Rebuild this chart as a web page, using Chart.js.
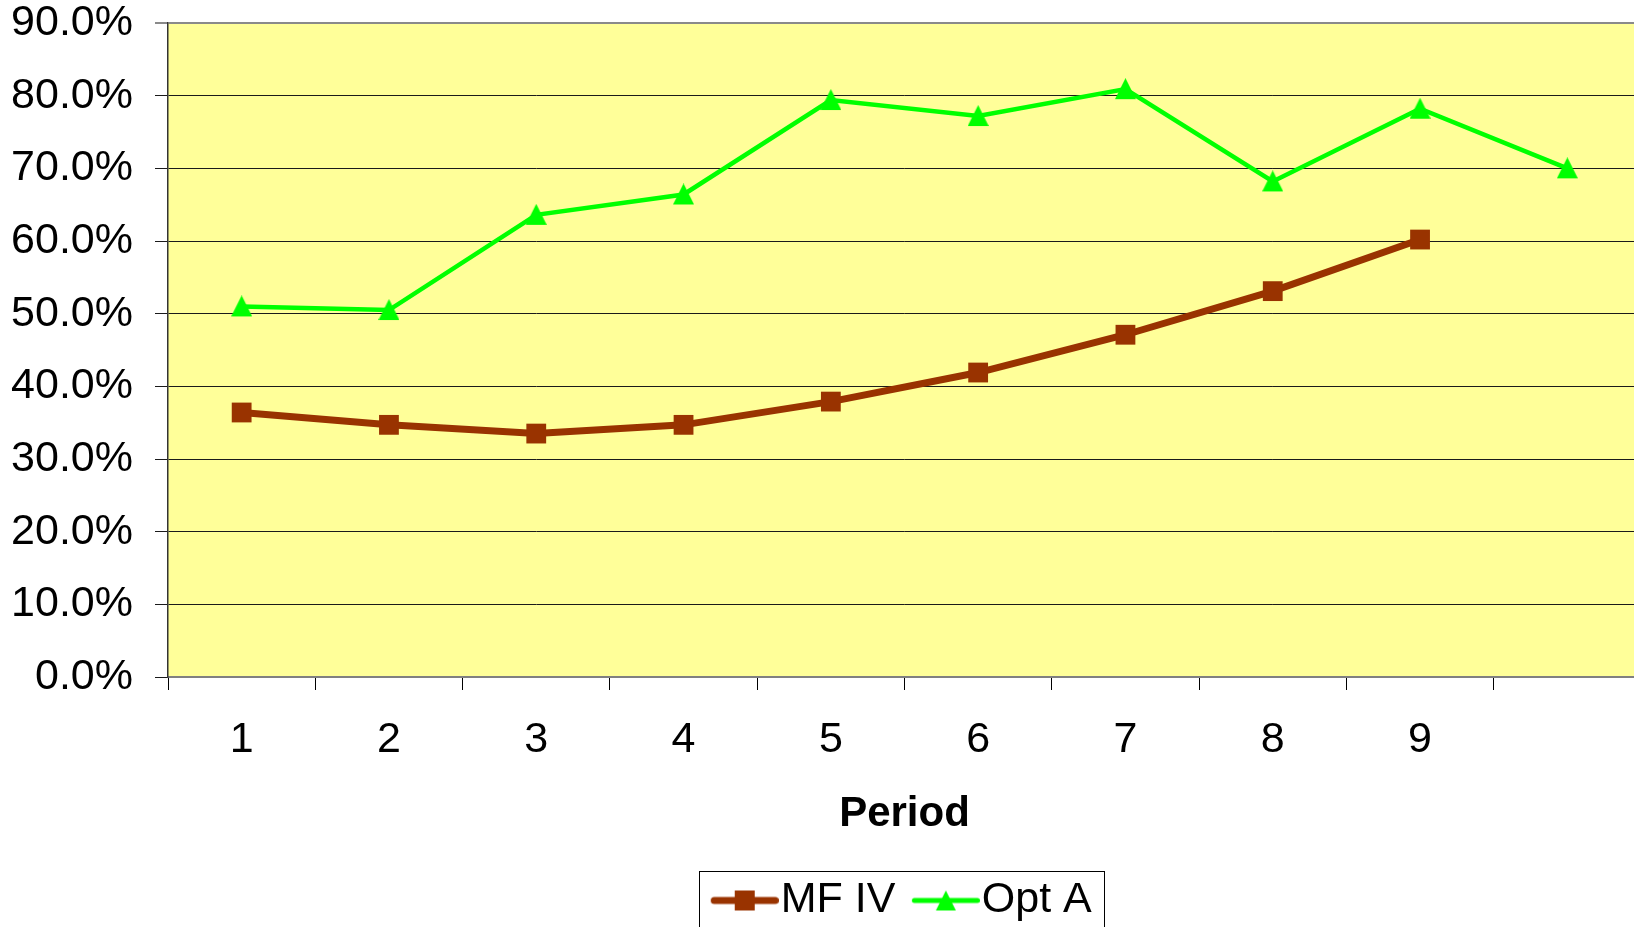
<!DOCTYPE html>
<html>
<head>
<meta charset="utf-8">
<script src="https://cdn.jsdelivr.net/npm/chart.js@4.4.0/dist/chart.umd.min.js"></script>
<style>
  html, body { margin: 0; padding: 0; background: #ffffff; overflow: hidden; }
  #chart { display: block; }
</style>
</head>
<body>
<canvas id="chart" width="1641" height="932"></canvas>
<script>
// Periods along the x axis (the tenth slot carries no label)
const periods = ['1', '2', '3', '4', '5', '6', '7', '8', '9', ''];
// Series values as fractions
const mfIV = [0.364, 0.347, 0.335, 0.347, 0.379, 0.419, 0.471, 0.531, 0.602, null];
const optA = [0.510, 0.505, 0.636, 0.664, 0.794, 0.772, 0.809, 0.682, 0.782, 0.700];
// Value axis ticks
const yTicks = [0, 0.1, 0.2, 0.3, 0.4, 0.5, 0.6, 0.7, 0.8, 0.9];

const FONT = '"Liberation Sans", Arial, sans-serif';
const BROWN = '#993300';
const GREEN = '#00FF00';

// Upright triangle marker, a little taller than equilateral
function triangleMarker(color) {
  const c = document.createElement('canvas');
  c.width = 21; c.height = 22;
  const g = c.getContext('2d');
  g.fillStyle = color;
  g.beginPath(); g.moveTo(10.5, 0); g.lineTo(21, 21); g.lineTo(0, 21); g.closePath(); g.fill();
  return c;
}
const triMarker = triangleMarker(GREEN);

// Legend swatch: a short line with the series marker on it
function legendIcon(color, lw, shape) {
  const c = document.createElement('canvas');
  c.width = 101; c.height = 26;
  const g = c.getContext('2d');
  g.strokeStyle = color; g.lineWidth = lw; g.lineCap = 'round';
  g.beginPath(); g.moveTo(33 + lw / 2, 13); g.lineTo(101 - lw / 2, 13); g.stroke();
  g.fillStyle = color;
  if (shape === 'rect') {
    g.fillRect(57, 3, 20, 20);
  } else {
    g.beginPath(); g.moveTo(67, 3); g.lineTo(77, 23); g.lineTo(57, 23); g.closePath(); g.fill();
  }
  return c;
}
const icons = [legendIcon(BROWN, 7, 'rect'), legendIcon(GREEN, 5, 'triangle')];

// Pale yellow plot area
const plotFill = {
  id: 'plotFill',
  beforeDraw(chart) {
    const { ctx, chartArea: a } = chart;
    ctx.save();
    ctx.fillStyle = '#FFFF99';
    ctx.fillRect(a.left, a.top, a.right - a.left, a.bottom - a.top);
    ctx.restore();
  }
};

// Nudge the legend row so the swatches, not the hit boxes, are centred
const legendNudge = {
  id: 'legendNudge',
  afterLayout(chart) {
    if (!chart.legend) return;
    chart.legend.left -= 10;
    chart.legend.right -= 10;
  }
};

// Frame around the legend entries
const legendFrame = {
  id: 'legendFrame',
  afterDraw(chart) {
    const hb = chart.legend && chart.legend.legendHitBoxes;
    if (!hb || !hb.length) return;
    const last = hb[hb.length - 1];
    const left = Math.round(hb[0].left + 2);
    const right = Math.round(last.left + last.width + 12);
    const cy = hb[0].top + hb[0].height / 2;
    const top = Math.round(cy - 30);
    const ctx = chart.ctx;
    ctx.save();
    ctx.strokeStyle = '#000';
    ctx.lineWidth = 1;
    ctx.strokeRect(left + 0.5, top + 0.5, right - left, 120);
    ctx.restore();
  }
};

new Chart(document.getElementById('chart'), {
  type: 'line',
  data: {
    labels: periods,
    datasets: [
      {
        label: 'MF IV',
        data: mfIV,
        borderColor: BROWN,
        backgroundColor: BROWN,
        borderWidth: 7,
        pointStyle: 'rect',
        pointRadius: 14,
        pointBorderWidth: 0,
        pointBackgroundColor: BROWN,
        tension: 0,
        spanGaps: false
      },
      {
        label: 'Opt A',
        data: optA,
        borderColor: GREEN,
        backgroundColor: GREEN,
        borderWidth: 4.5,
        pointStyle: triMarker,
        pointRadius: 11,
        pointBorderWidth: 0,
        pointBackgroundColor: GREEN,
        tension: 0
      }
    ]
  },
  options: {
    responsive: false,
    animation: false,
    layout: { autoPadding: false, padding: { top: 0, right: 0, bottom: 0, left: 0 } },
    plugins: {
      tooltip: { enabled: false },
      legend: {
        position: 'bottom',
        fullSize: false,
        labels: {
          usePointStyle: true,
          pointStyleWidth: 62,
          padding: 3,
          color: '#000',
          font: { family: FONT, size: 43 },
          generateLabels(chart) {
            const items = Chart.defaults.plugins.legend.labels.generateLabels(chart);
            items.forEach((it, i) => { it.pointStyle = icons[i]; });
            return items;
          }
        }
      }
    },
    scales: {
      x: {
        offset: true,
        afterFit(scale) { scale.paddingLeft = 0; scale.paddingRight = 0; },
        grid: {
          offset: true,
          drawOnChartArea: false,
          drawTicks: true,
          tickLength: 13,
          color: '#000',
          lineWidth: 1
        },
        border: { color: '#808080', width: 2 },
        ticks: {
          color: '#000',
          font: { family: FONT, size: 43 },
          padding: 24,
          maxRotation: 0,
          autoSkip: false
        },
        title: {
          display: true,
          text: 'Period',
          color: '#000',
          font: { family: FONT, size: 42, weight: 'bold' },
          padding: { top: 0, bottom: 36 }
        }
      },
      y: {
        min: 0,
        max: 0.9,
        afterBuildTicks(scale) { scale.ticks = yTicks.map(v => ({ value: v })); },
        afterFit(scale) { scale.width = 168; scale.paddingTop = 23; scale.paddingBottom = 0; },
        ticks: {
          color: '#000',
          font: { family: FONT, size: 43, lineHeight: 1 },
          padding: 22,
          callback: v => (v * 100).toFixed(1) + '%'
        },
        grid: {
          tickLength: 13,
          lineWidth: ctx => (ctx.tick && ctx.tick.value >= 0.9 ? 2 : 1),
          color: ctx => (ctx.tick && ctx.tick.value >= 0.9 ? '#8a8a8a' : '#1a1a1a')
        },
        border: { color: '#333', width: 1.5 }
      }
    }
  },
  plugins: [plotFill, legendNudge, legendFrame]
});
</script>
</body>
</html>
